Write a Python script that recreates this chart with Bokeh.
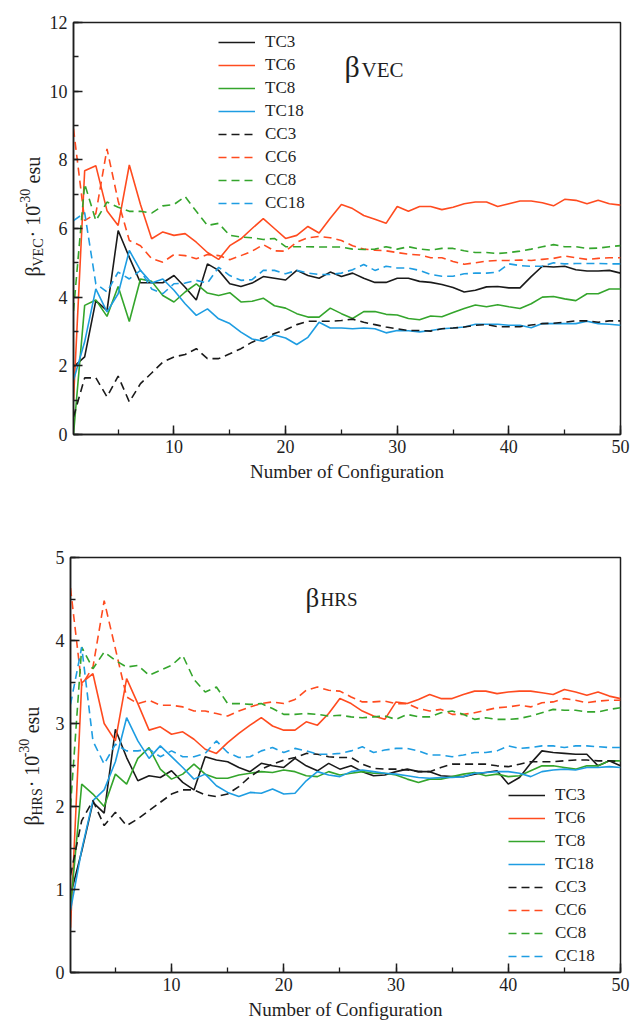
import math

from bokeh.embed import file_html
from bokeh.layouts import column, row
from bokeh.models import Label, Legend, LegendItem, Range1d, SingleIntervalTicker
from bokeh.plotting import figure
from bokeh.resources import INLINE

# ---------------------------------------------------------------- data
configs = list(range(1, 51))

series_names = ["TC3", "TC6", "TC8", "TC18", "CC3", "CC6", "CC8", "CC18"]

# beta_VEC (10^-30 esu)
vec_tc3 = [1.97, 2.26, 3.90, 3.61, 5.94, 5.16, 4.42, 4.42, 4.42, 4.63,
           4.29, 3.92, 4.97, 4.78, 4.39, 4.31, 4.41, 4.60, 4.55, 4.50,
           4.78, 4.63, 4.55, 4.73, 4.60, 4.70, 4.55, 4.43, 4.43, 4.55,
           4.55, 4.46, 4.43, 4.37, 4.28, 4.15, 4.20, 4.30, 4.31, 4.27,
           4.27, 4.60, 4.90, 4.88, 4.90, 4.80, 4.76, 4.76, 4.78, 4.70]
vec_tc6 = [1.00, 7.68, 7.83, 6.52, 6.09, 7.85, 6.70, 5.70, 5.90, 5.80,
           5.85, 5.60, 5.30, 5.10, 5.50, 5.70, 6.00, 6.29, 6.00, 5.71,
           5.80, 6.06, 5.87, 6.30, 6.70, 6.58, 6.38, 6.27, 6.15, 6.64,
           6.50, 6.64, 6.64, 6.55, 6.62, 6.72, 6.77, 6.77, 6.64, 6.72,
           6.80, 6.80, 6.75, 6.66, 6.85, 6.82, 6.72, 6.82, 6.72, 6.68]
vec_tc8 = [0.00, 3.76, 3.92, 3.44, 4.31, 3.29, 4.53, 4.46, 4.05, 3.86,
           4.15, 4.39, 4.12, 4.05, 4.13, 3.86, 3.88, 3.97, 3.75, 3.68,
           3.52, 3.42, 3.42, 3.68, 3.52, 3.38, 3.58, 3.58, 3.50, 3.48,
           3.38, 3.34, 3.45, 3.43, 3.55, 3.67, 3.77, 3.72, 3.78, 3.72,
           3.67, 3.81, 4.00, 4.02, 3.95, 3.90, 4.10, 4.10, 4.24, 4.24]
vec_tc18 = [1.58, 2.70, 4.24, 3.57, 4.10, 5.36, 4.78, 4.41, 4.53, 4.20,
            3.81, 3.47, 3.66, 3.37, 3.23, 2.98, 2.78, 2.72, 2.90, 2.81,
            2.62, 2.83, 3.27, 3.10, 3.10, 3.08, 3.10, 3.08, 2.96, 3.03,
            3.02, 2.99, 3.03, 3.08, 3.10, 3.13, 3.21, 3.21, 3.21, 3.18,
            3.18, 3.11, 3.23, 3.23, 3.23, 3.23, 3.30, 3.23, 3.21, 3.18]
vec_cc3 = [0.51, 1.65, 1.65, 1.10, 1.70, 0.95, 1.48, 1.79, 2.11, 2.26,
           2.33, 2.50, 2.21, 2.21, 2.35, 2.50, 2.69, 2.82, 2.94, 3.05,
           3.20, 3.30, 3.30, 3.30, 3.32, 3.36, 3.27, 3.20, 3.13, 3.08,
           3.03, 3.03, 3.01, 3.08, 3.10, 3.13, 3.18, 3.20, 3.14, 3.14,
           3.14, 3.19, 3.23, 3.24, 3.27, 3.31, 3.31, 3.27, 3.31, 3.31]
vec_cc6 = [8.90, 6.23, 6.43, 8.32, 6.80, 5.65, 5.50, 5.12, 5.02, 5.24,
           5.21, 5.12, 5.24, 5.21, 5.09, 5.21, 5.34, 5.53, 5.35, 5.34,
           5.60, 5.73, 5.77, 5.73, 5.65, 5.50, 5.40, 5.37, 5.35, 5.30,
           5.25, 5.23, 5.15, 5.15, 5.04, 4.96, 5.00, 5.05, 5.07, 5.07,
           5.08, 5.07, 5.10, 5.13, 5.20, 5.15, 5.10, 5.13, 5.15, 5.15]
vec_cc8 = [3.60, 7.30, 6.23, 6.77, 6.62, 6.50, 6.50, 6.45, 6.66, 6.70,
           6.93, 6.50, 6.09, 6.15, 5.80, 5.75, 5.73, 5.68, 5.71, 5.47,
           5.47, 5.47, 5.46, 5.46, 5.46, 5.40, 5.39, 5.40, 5.47, 5.40,
           5.47, 5.40, 5.37, 5.42, 5.42, 5.35, 5.30, 5.30, 5.27, 5.30,
           5.34, 5.40, 5.47, 5.53, 5.47, 5.47, 5.42, 5.43, 5.47, 5.50]
vec_cc18 = [6.23, 6.46, 4.39, 4.15, 4.73, 4.53, 4.78, 4.24, 4.10, 4.39,
            4.41, 4.49, 4.41, 4.87, 4.63, 4.49, 4.51, 4.78, 4.78, 4.68,
            4.78, 4.70, 4.66, 4.66, 4.70, 4.80, 4.95, 4.78, 4.90, 4.85,
            4.85, 4.78, 4.66, 4.61, 4.61, 4.68, 4.70, 4.70, 4.73, 4.97,
            4.92, 4.90, 4.90, 5.00, 4.97, 4.98, 4.98, 4.98, 4.97, 4.97]

# beta_HRS (10^-30 esu)
hrs_tc3 = [0.93, 1.46, 2.05, 1.92, 2.93, 2.59, 2.31, 2.37, 2.35, 2.43,
           2.29, 2.20, 2.60, 2.56, 2.54, 2.47, 2.42, 2.52, 2.49, 2.47,
           2.58, 2.49, 2.43, 2.52, 2.45, 2.49, 2.42, 2.37, 2.38, 2.42,
           2.45, 2.42, 2.42, 2.37, 2.36, 2.36, 2.39, 2.41, 2.43, 2.27,
           2.35, 2.52, 2.67, 2.65, 2.64, 2.63, 2.63, 2.49, 2.55, 2.49]
hrs_tc6 = [0.54, 3.49, 3.60, 3.00, 2.79, 3.54, 3.24, 2.92, 2.96, 2.87,
           2.90, 2.81, 2.69, 2.64, 2.77, 2.88, 2.98, 3.07, 2.97, 2.92,
           2.92, 3.02, 2.98, 3.12, 3.30, 3.24, 3.15, 3.09, 3.05, 3.26,
           3.24, 3.29, 3.35, 3.30, 3.30, 3.35, 3.39, 3.39, 3.36, 3.38,
           3.39, 3.39, 3.37, 3.35, 3.41, 3.38, 3.34, 3.38, 3.33, 3.30]
hrs_tc8 = [0.78, 2.27, 2.15, 2.00, 2.39, 2.27, 2.58, 2.71, 2.45, 2.33,
           2.39, 2.51, 2.39, 2.34, 2.34, 2.38, 2.40, 2.42, 2.41, 2.44,
           2.42, 2.37, 2.36, 2.42, 2.38, 2.40, 2.42, 2.40, 2.40, 2.38,
           2.33, 2.29, 2.33, 2.33, 2.36, 2.39, 2.41, 2.37, 2.39, 2.36,
           2.37, 2.43, 2.49, 2.49, 2.47, 2.45, 2.49, 2.49, 2.55, 2.55]
hrs_tc18 = [0.75, 1.48, 2.07, 2.20, 2.54, 3.07, 2.79, 2.58, 2.73, 2.60,
            2.47, 2.33, 2.39, 2.25, 2.17, 2.12, 2.17, 2.16, 2.21, 2.15,
            2.16, 2.31, 2.42, 2.38, 2.36, 2.42, 2.44, 2.42, 2.40, 2.39,
            2.37, 2.35, 2.34, 2.35, 2.35, 2.36, 2.40, 2.41, 2.42, 2.42,
            2.40, 2.36, 2.42, 2.44, 2.45, 2.44, 2.47, 2.47, 2.48, 2.47]
hrs_cc3 = [1.17, 1.83, 2.07, 1.77, 1.93, 1.77, 1.85, 1.95, 2.05, 2.15,
           2.20, 2.20, 2.14, 2.12, 2.15, 2.24, 2.36, 2.45, 2.51, 2.56,
           2.59, 2.64, 2.63, 2.60, 2.59, 2.59, 2.51, 2.46, 2.45, 2.45,
           2.44, 2.42, 2.42, 2.47, 2.51, 2.51, 2.51, 2.51, 2.49, 2.48,
           2.51, 2.54, 2.54, 2.54, 2.55, 2.56, 2.56, 2.55, 2.55, 2.54]
hrs_cc6 = [4.63, 3.46, 3.68, 4.48, 3.90, 3.32, 3.24, 3.28, 3.22, 3.22,
           3.20, 3.15, 3.15, 3.12, 3.09, 3.15, 3.20, 3.24, 3.26, 3.24,
           3.29, 3.40, 3.44, 3.40, 3.39, 3.32, 3.26, 3.26, 3.27, 3.24,
           3.24, 3.18, 3.15, 3.17, 3.11, 3.11, 3.13, 3.16, 3.19, 3.20,
           3.22, 3.20, 3.25, 3.26, 3.30, 3.28, 3.25, 3.27, 3.28, 3.28]
hrs_cc8 = [2.00, 3.92, 3.66, 3.86, 3.76, 3.68, 3.70, 3.58, 3.64, 3.70,
           3.82, 3.53, 3.38, 3.44, 3.24, 3.24, 3.23, 3.24, 3.18, 3.11,
           3.11, 3.12, 3.11, 3.09, 3.10, 3.08, 3.07, 3.08, 3.09, 3.05,
           3.11, 3.08, 3.08, 3.13, 3.15, 3.11, 3.05, 3.07, 3.05, 3.05,
           3.06, 3.09, 3.13, 3.17, 3.16, 3.16, 3.14, 3.14, 3.17, 3.19]
hrs_cc18 = [3.23, 3.92, 2.79, 2.51, 2.75, 2.67, 2.67, 2.69, 2.60, 2.67,
            2.60, 2.60, 2.64, 2.79, 2.65, 2.59, 2.60, 2.67, 2.71, 2.65,
            2.70, 2.67, 2.63, 2.63, 2.64, 2.67, 2.72, 2.65, 2.68, 2.70,
            2.70, 2.67, 2.62, 2.62, 2.60, 2.62, 2.65, 2.65, 2.67, 2.73,
            2.70, 2.71, 2.73, 2.73, 2.71, 2.73, 2.73, 2.72, 2.71, 2.71]

vec_series = [vec_tc3, vec_tc6, vec_tc8, vec_tc18, vec_cc3, vec_cc6, vec_cc8, vec_cc18]
hrs_series = [hrs_tc3, hrs_tc6, hrs_tc8, hrs_tc18, hrs_cc3, hrs_cc6, hrs_cc8, hrs_cc18]

# ---------------------------------------------------------------- style
SERIF = "Liberation Serif"
INK = "#1e1e1e"
PALETTE = ["#1a1a1a", "#ff4b1f", "#34a52c", "#1e9de2"]
LINE_W = 1.6
DASH = "8 5"
LABEL_STRIP = 46          # width of the strip holding the vertical axis title


def style_axes(p, y_interval):
    p.xaxis.ticker = SingleIntervalTicker(interval=10, num_minor_ticks=2)
    p.yaxis.ticker = SingleIntervalTicker(interval=y_interval, num_minor_ticks=2)
    for ax in (p.xaxis, p.yaxis):
        ax.axis_line_color = INK
        ax.axis_line_width = 1.5
        ax.major_tick_line_color = INK
        ax.major_tick_line_width = 1.5
        ax.minor_tick_line_color = INK
        ax.minor_tick_line_width = 1.3
        ax.major_tick_in = 9
        ax.major_tick_out = 0
        ax.minor_tick_in = 5
        ax.minor_tick_out = 0
        ax.major_label_text_font = SERIF
        ax.major_label_text_font_size = "18px"
        ax.major_label_text_color = INK
    p.xaxis.major_label_standoff = 5
    p.yaxis.major_label_standoff = 6
    p.xaxis.axis_label = "Number of Configuration"
    p.xaxis.axis_label_text_font = SERIF
    p.xaxis.axis_label_text_font_size = "19px"
    p.xaxis.axis_label_text_font_style = "normal"
    p.xaxis.axis_label_text_color = INK
    p.xaxis.axis_label_standoff = 5
    p.xgrid.visible = False
    p.ygrid.visible = False
    p.outline_line_color = INK
    p.outline_line_width = 1.5
    p.outline_line_alpha = 1.0


def draw_series(p, data):
    items = []
    for i, (name, ys) in enumerate(zip(series_names, data)):
        kw = dict(line_color=PALETTE[i % 4], line_width=LINE_W)
        if name.startswith("CC"):
            kw["line_dash"] = DASH
        r = p.line(configs, ys, **kw)
        items.append(LegendItem(label=name, renderers=[r]))
    return items


def add_legend(p, items, loc):
    leg = Legend(items=items, location=loc, padding=0, margin=0, spacing=3,
                 glyph_width=37, glyph_height=20, label_height=20,
                 label_standoff=10, label_text_font=SERIF,
                 label_text_font_size="17px", label_text_color=INK,
                 border_line_alpha=0, background_fill_alpha=0)
    p.add_layout(leg, "center")


def screen_label(p, x, y, text, size, angle=0.0):
    p.add_layout(Label(x=x, y=y, x_units="screen", y_units="screen",
                       text=text, angle=angle, text_font=SERIF,
                       text_font_size=size, text_color=INK,
                       text_align="left", text_baseline="alphabetic"))


def title_strip(height, base_x, start_y, sub):
    """Narrow blank canvas carrying the rotated  beta_sub . 10^-30 esu  title.

    Its frame lines up with the neighbouring plot frame, so start_y is
    measured up from the bottom axis line."""
    s = figure(width=LABEL_STRIP, height=height, output_backend="svg",
               toolbar_location=None, x_axis_type=None, y_axis_type=None,
               x_range=Range1d(0, 1), y_range=Range1d(0, 1),
               min_border=0, min_border_left=0, min_border_right=0,
               min_border_top=0, min_border_bottom=0,
               outline_line_color=None)
    up = math.pi / 2
    sub_w = {"VEC": 28.0, "HRS": 27.2}[sub]
    y = start_y
    screen_label(s, base_x, y, "\u03b2", "20px", up)
    y += 10
    screen_label(s, base_x + 6, y, sub, "14px", up)
    y += sub_w + 1
    screen_label(s, base_x, y, "\u00b7 10", "20px", up)
    y += 30
    screen_label(s, base_x - 8, y, "-30", "14px", up)
    y += 24
    screen_label(s, base_x, y, "esu", "20px", up)
    return s


def inner_title(p, x, y, sub, big, small, dy, gap):
    screen_label(p, x, y, "\u03b2", big)
    screen_label(p, x + gap, y - dy, sub, small)


# ---------------------------------------------------------------- top panel
top = figure(width=630 - LABEL_STRIP, height=500, output_backend="svg",
             toolbar_location=None,
             x_range=Range1d(1, 50), y_range=Range1d(0, 12),
             min_border_left=70 - LABEL_STRIP, min_border_right=10,
             min_border_top=22, min_border_bottom=66)
style_axes(top, 2)
add_legend(top, draw_series(top, vec_series), (145, 221))
inner_title(top, 271, 368, "VEC", "30px", "21px", 3, 17)
strip_top = title_strip(500, 32, 158, "VEC")

# ---------------------------------------------------------------- bottom panel
bot = figure(width=630 - LABEL_STRIP, height=525, output_backend="svg",
             toolbar_location=None,
             x_range=Range1d(1, 50), y_range=Range1d(0, 5),
             min_border_left=70 - LABEL_STRIP, min_border_right=10,
             min_border_top=57, min_border_bottom=53)
style_axes(bot, 1)
add_legend(bot, draw_series(bot, hrs_series), (438, 6))
inner_title(bot, 235, 375, "HRS", "27px", "19px", 2, 15)
strip_bot = title_strip(525, 31, 147, "HRS")

page = column(row(strip_top, top), row(strip_bot, bot))
open("out.html", "w").write(file_html(page, INLINE))
